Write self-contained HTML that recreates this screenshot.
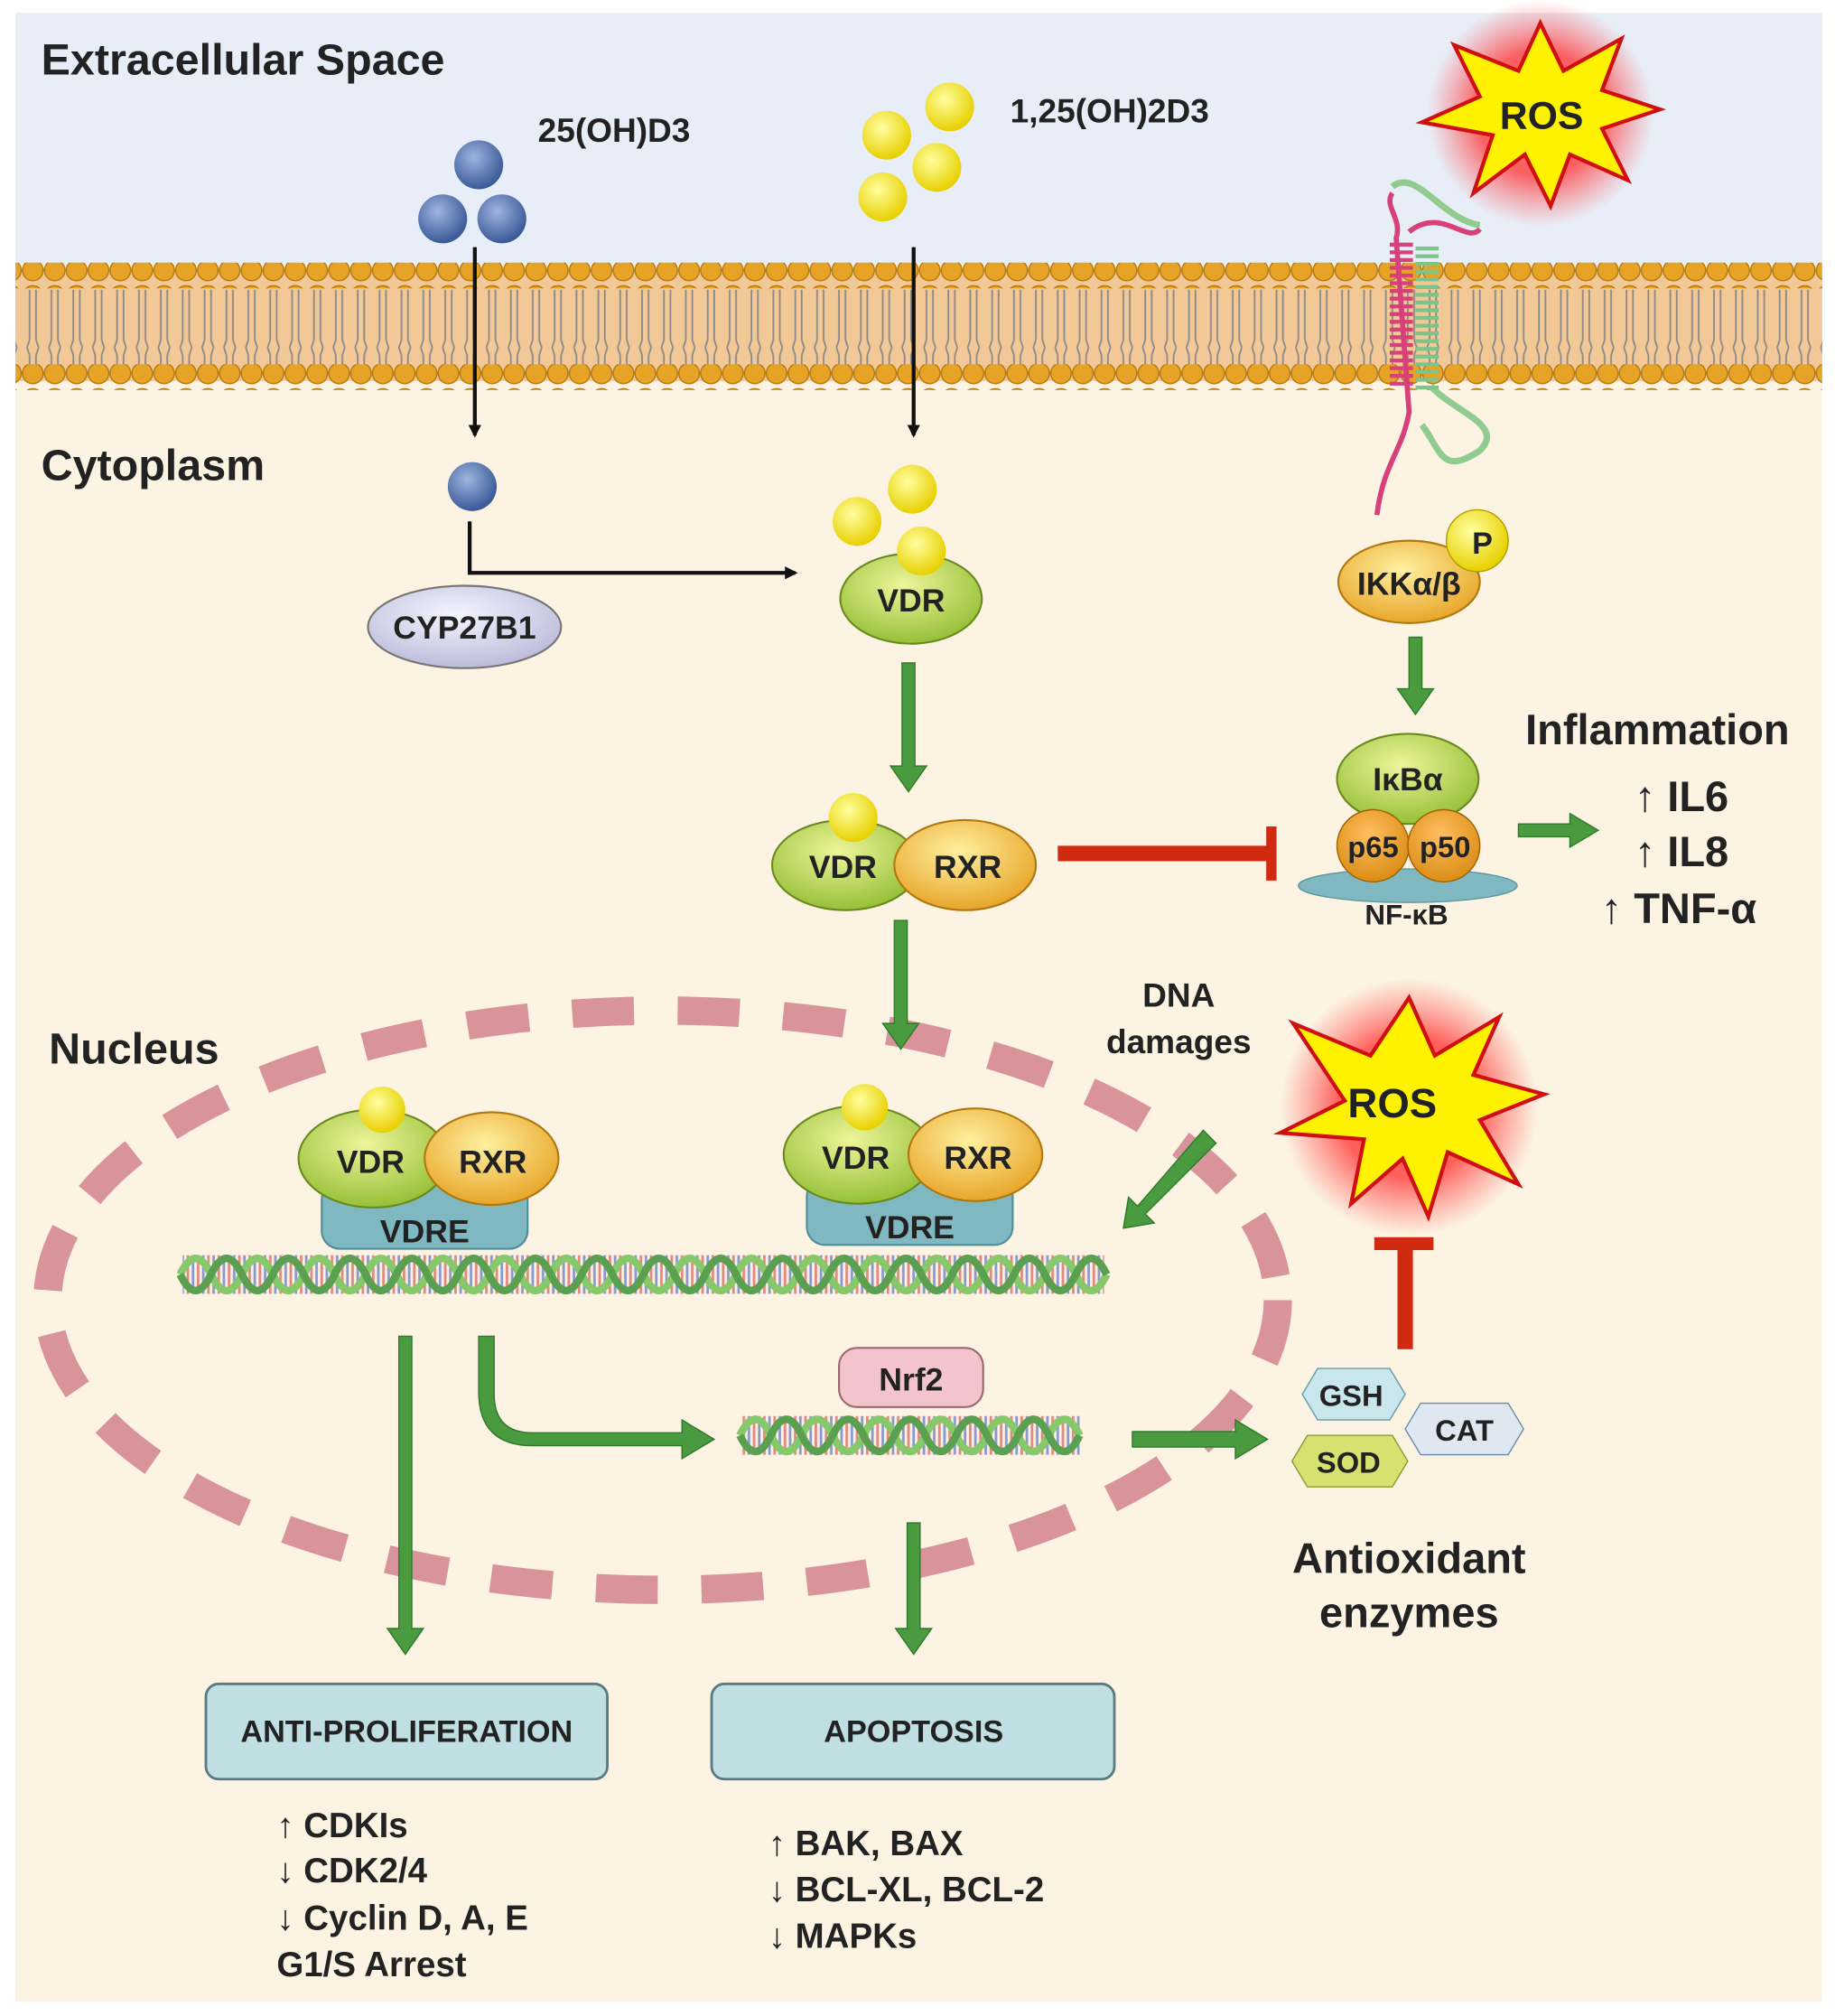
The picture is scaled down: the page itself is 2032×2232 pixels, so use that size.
<!DOCTYPE html>
<html><head><meta charset="utf-8"><style>
html,body{margin:0;padding:0;background:#fff;}
svg{display:block;}
text{font-family:"Liberation Sans",Arial,sans-serif;font-weight:bold;fill:#222;}
</style></head><body>
<svg width="2032" height="2232" viewBox="0 0 1426 1566" preserveAspectRatio="none" xmlns="http://www.w3.org/2000/svg">
<defs>
<radialGradient id="gb" cx="40%" cy="35%" r="65%"><stop offset="0" stop-color="#9fb4e0"/><stop offset="1" stop-color="#3a5a98"/></radialGradient>
<radialGradient id="gy" cx="40%" cy="35%" r="65%"><stop offset="0" stop-color="#ffffa0"/><stop offset="1" stop-color="#e8d000"/></radialGradient>
<radialGradient id="gg" cx="45%" cy="35%" r="70%"><stop offset="0" stop-color="#eef59a"/><stop offset="1" stop-color="#8fbc30"/></radialGradient>
<radialGradient id="go" cx="45%" cy="35%" r="70%"><stop offset="0" stop-color="#fff0a0"/><stop offset="1" stop-color="#e6a020"/></radialGradient>
<radialGradient id="gl" cx="45%" cy="35%" r="70%"><stop offset="0" stop-color="#f4f4ff"/><stop offset="1" stop-color="#b8b8d8"/></radialGradient>
<radialGradient id="gp" cx="45%" cy="35%" r="70%"><stop offset="0" stop-color="#ffbe60"/><stop offset="1" stop-color="#d88a10"/></radialGradient>
<radialGradient id="glow" cx="50%" cy="50%" r="50%"><stop offset="0.55" stop-color="#ff3030" stop-opacity="0.75"/><stop offset="1" stop-color="#ff5050" stop-opacity="0"/></radialGradient>
<pattern id="heads" width="17" height="20" patternUnits="userSpaceOnUse"><circle cx="8.5" cy="10" r="8" fill="#e7a326" stroke="#b47810" stroke-width="1"/></pattern>
<pattern id="tails" width="17" height="60" patternUnits="userSpaceOnUse"><path d="M6 0 V24 M11 0 V24 M6 36 V60 M11 36 V60 M6 24 L4 30 M11 24 L13 30 M6 36 L4 30 M11 36 L13 30" stroke="#8a8a8a" stroke-width="1.3" fill="none"/></pattern>
<pattern id="rungs" width="8" height="40" patternUnits="userSpaceOnUse"><rect x="1" y="0" width="2" height="40" fill="#d03030"/><rect x="5" y="0" width="2" height="40" fill="#3050c0"/></pattern>
<marker id="ab" markerWidth="10" markerHeight="10" refX="8" refY="5" orient="auto" markerUnits="userSpaceOnUse"><path d="M0 0 L10 5 L0 10 Z" fill="#111"/></marker>
</defs>
<rect width="1426" height="1566" fill="#fff"/>
<rect x="12" y="10" width="1404" height="200" fill="#e8eef8"/>
<rect x="12" y="205" width="1404" height="1350" fill="#fcf3e3"/>
<rect x="12" y="212" width="1404" height="84" fill="#f2c896"/>
<rect x="12" y="225" width="1404" height="60" fill="url(#tails)"/>
<rect x="12" y="204" width="1404" height="20" fill="url(#heads)"/>
<rect x="12" y="283" width="1404" height="20" fill="url(#heads)"/>
<text x="32" y="58" font-size="34">Extracellular Space</text>
<text x="418" y="110" font-size="26">25(OH)D3</text>
<text x="785" y="95" font-size="26">1,25(OH)2D3</text>
<text x="32" y="373" font-size="34">Cytoplasm</text>
<text x="38" y="826" font-size="34">Nucleus</text>
<!-- receptor -->
<path d="M1082 150 C1075 160 1090 170 1085 185 L1095 320 C1090 350 1075 360 1070 400" stroke="#d8407a" stroke-width="4" fill="none"/>
<path d="M1082 145 C1100 130 1120 170 1150 175 M1112 300 C1130 320 1170 330 1150 350 C1120 370 1120 350 1105 330" stroke="#90cc90" stroke-width="5" fill="none"/>
<path d="M1095 180 C1120 160 1140 190 1150 178" stroke="#d8407a" stroke-width="4" fill="none"/>
<g stroke="#d8407a" stroke-width="3" fill="none">
<path d="M1080 190 h18 M1080 196 h18 M1080 202 h18 M1080 208 h18 M1080 214 h18 M1080 220 h18 M1080 226 h18 M1080 232 h18 M1080 238 h18 M1080 244 h18 M1080 250 h18 M1080 256 h18 M1080 262 h18 M1080 268 h18 M1080 274 h18 M1080 280 h18 M1080 286 h18 M1080 292 h18 M1080 298 h18"/></g>
<g stroke="#7cc48a" stroke-width="3" fill="none">
<path d="M1100 193 h18 M1100 199 h18 M1100 205 h18 M1100 211 h18 M1100 217 h18 M1100 223 h18 M1100 229 h18 M1100 235 h18 M1100 241 h18 M1100 247 h18 M1100 253 h18 M1100 259 h18 M1100 265 h18 M1100 271 h18 M1100 277 h18 M1100 283 h18 M1100 289 h18 M1100 295 h18 M1100 301 h18"/></g>
<!-- ROS stars -->
<circle cx="1197" cy="88" r="88" fill="url(#glow)"/>
<polygon points="1197,18 1215,55 1260,30 1245,70 1290,85 1245,100 1265,140 1220,120 1205,160 1185,120 1145,150 1160,105 1105,95 1150,75 1130,35 1180,55" fill="#fff200" stroke="#d01010" stroke-width="3"/>
<text x="1198" y="100" font-size="30" text-anchor="middle">ROS</text>
<circle cx="1095" cy="860" r="100" fill="url(#glow)"/>
<polygon points="1095,775 1115,820 1165,790 1145,835 1200,850 1150,870 1180,920 1125,895 1110,945 1090,900 1050,935 1060,885 995,880 1045,855 1005,795 1065,820" fill="#fff200" stroke="#d01010" stroke-width="3"/>
<text x="1082" y="868" font-size="32" text-anchor="middle">ROS</text>
<!-- nucleus (behind arrows) -->
<ellipse cx="515" cy="1010" rx="478" ry="225" fill="none" stroke="#d8939b" stroke-width="22" stroke-dasharray="48 34"/>
<!-- balls outside -->
<circle cx="372" cy="128" r="19" fill="url(#gb)"/><circle cx="344" cy="170" r="19" fill="url(#gb)"/><circle cx="390" cy="170" r="19" fill="url(#gb)"/>
<circle cx="738" cy="83" r="19" fill="url(#gy)"/><circle cx="689" cy="105" r="19" fill="url(#gy)"/><circle cx="728" cy="130" r="19" fill="url(#gy)"/><circle cx="686" cy="153" r="19" fill="url(#gy)"/>
<line x1="369" y1="192" x2="369" y2="338" stroke="#111" stroke-width="3" marker-end="url(#ab)"/>
<line x1="710" y1="192" x2="710" y2="338" stroke="#111" stroke-width="3" marker-end="url(#ab)"/>
<circle cx="367" cy="378" r="19" fill="url(#gb)"/>
<path d="M365 405 V445 H618" stroke="#111" stroke-width="3" fill="none" marker-end="url(#ab)"/>
<ellipse cx="361" cy="487" rx="75" ry="32" fill="url(#gl)" stroke="#777" stroke-width="1.5"/>
<text x="361" y="496" font-size="25" text-anchor="middle">CYP27B1</text>
<circle cx="709" cy="380" r="19" fill="url(#gy)"/><circle cx="666" cy="405" r="19" fill="url(#gy)"/>
<ellipse cx="708" cy="465" rx="55" ry="35" fill="url(#gg)" stroke="#6a8a20" stroke-width="1.5"/>
<circle cx="716" cy="428" r="19" fill="url(#gy)"/>
<text x="708" y="475" font-size="25" text-anchor="middle">VDR</text>
<text x="916" y="782" font-size="26" text-anchor="middle">DNA</text>
<text x="916" y="818" font-size="26" text-anchor="middle">damages</text>
<!-- DNA helices -->
<rect x="142" y="975" width="716" height="30" fill="url(#rungs)" opacity="0.55"/>
<rect x="577" y="1100" width="262" height="30" fill="url(#rungs)" opacity="0.55"/>
<g fill="none" stroke-width="6">
<path d="M140 990 q12 -25 24 0 t24 0 t24 0 t24 0 t24 0 t24 0 t24 0 t24 0 t24 0 t24 0 t24 0 t24 0 t24 0 t24 0 t24 0 t24 0 t24 0 t24 0 t24 0 t24 0 t24 0 t24 0 t24 0 t24 0 t24 0 t24 0 t24 0 t24 0 t24 0 t24 0" stroke="#86c86a"/>
<path d="M140 990 q12 25 24 0 t24 0 t24 0 t24 0 t24 0 t24 0 t24 0 t24 0 t24 0 t24 0 t24 0 t24 0 t24 0 t24 0 t24 0 t24 0 t24 0 t24 0 t24 0 t24 0 t24 0 t24 0 t24 0 t24 0 t24 0 t24 0 t24 0 t24 0 t24 0 t24 0" stroke="#5aa050"/>
<path d="M575 1115 q12 -25 24 0 t24 0 t24 0 t24 0 t24 0 t24 0 t24 0 t24 0 t24 0 t24 0 t24 0" stroke="#86c86a"/>
<path d="M575 1115 q12 25 24 0 t24 0 t24 0 t24 0 t24 0 t24 0 t24 0 t24 0 t24 0 t24 0 t24 0" stroke="#5aa050"/>
</g>
<g fill="#4a9a40" stroke="#2e7a2a" stroke-width="1">
<path d="M701 515 h10 v80 h9 l-14 20 l-14 -20 h9z"/>
<path d="M695 715 h10 v80 h9 l-14 20 l-14 -20 h9z"/>
<path d="M1095 495 h10 v40 h9 l-14 20 l-14 -20 h9z"/>
<path d="M1180 640 h40 v-8 l22 13 l-22 13 v-8 h-40z"/>
<path d="M310 1038 h10 v227 h9 l-14 20 l-14 -20 h9z"/>
<path d="M705 1183 h10 v82 h9 l-14 20 l-14 -20 h9z"/>
<path d="M880 1112 h80 v-9 l25 15 l-25 15 v-9 h-80z"/>
<path d="M372 1038 h12 v45 q0 30 30 30 h116 v-10 l25 15 l-25 15 v-10 h-116 q-42 0 -42 -42z"/>
<path d="M935 878 l10 10 l-55 55 l7 7 l-24 4 l4 -24 l7 7z"/>
</g>
<!-- VDR-RXR cytoplasm -->
<ellipse cx="657" cy="672" rx="57" ry="35" fill="url(#gg)" stroke="#6a8a20" stroke-width="1.5"/>
<ellipse cx="750" cy="672" rx="55" ry="35" fill="url(#go)" stroke="#b07810" stroke-width="1.5"/>
<circle cx="663" cy="635" r="19" fill="url(#gy)"/>
<text x="655" y="682" font-size="25" text-anchor="middle">VDR</text>
<text x="752" y="682" font-size="25" text-anchor="middle">RXR</text>
<line x1="822" y1="663" x2="986" y2="663" stroke="#d02a10" stroke-width="12"/>
<line x1="988" y1="642" x2="988" y2="684" stroke="#d02a10" stroke-width="8"/>
<!-- IKK / NF-kB -->
<ellipse cx="1095" cy="452" rx="55" ry="32" fill="url(#go)" stroke="#b07810" stroke-width="1.5"/>
<circle cx="1148" cy="420" r="24" fill="url(#gy)" stroke="#b0a000"/>
<text x="1152" y="430" font-size="24" font-weight="normal" text-anchor="middle">P</text>
<text x="1095" y="462" font-size="25" text-anchor="middle">IKKα/β</text>
<ellipse cx="1094" cy="688" rx="85" ry="13" fill="#7fb8c0" stroke="#5a9aa0"/>
<ellipse cx="1094" cy="605" rx="55" ry="35" fill="url(#gg)" stroke="#6a8a20" stroke-width="1.5"/>
<text x="1094" y="614" font-size="25" text-anchor="middle">IκBα</text>
<circle cx="1067" cy="657" r="28" fill="url(#gp)" stroke="#a06000"/>
<circle cx="1122" cy="657" r="28" fill="url(#gp)" stroke="#a06000"/>
<text x="1067" y="666" font-size="23" font-weight="normal" text-anchor="middle">p65</text>
<text x="1123" y="666" font-size="23" font-weight="normal" text-anchor="middle">p50</text>
<text x="1093" y="718" font-size="22" text-anchor="middle">NF-κB</text>
<text x="1288" y="578" font-size="33" text-anchor="middle">Inflammation</text>
<text x="1270" y="630" font-size="33">↑ IL6</text>
<text x="1270" y="673" font-size="33">↑ IL8</text>
<text x="1244" y="717" font-size="33">↑ TNF-α</text>
<!-- nuclear complexes -->
<rect x="250" y="918" width="160" height="52" rx="14" fill="#7fb8c0" stroke="#4f8f98" stroke-width="1.5"/>
<text x="330" y="965" font-size="25" text-anchor="middle">VDRE</text>
<ellipse cx="290" cy="900" rx="58" ry="38" fill="url(#gg)" stroke="#6a8a20" stroke-width="1.5"/>
<ellipse cx="382" cy="900" rx="52" ry="36" fill="url(#go)" stroke="#b07810" stroke-width="1.5"/>
<circle cx="297" cy="862" r="18" fill="url(#gy)"/>
<text x="288" y="911" font-size="25" text-anchor="middle">VDR</text>
<text x="383" y="911" font-size="25" text-anchor="middle">RXR</text>
<rect x="627" y="915" width="160" height="52" rx="14" fill="#7fb8c0" stroke="#4f8f98" stroke-width="1.5"/>
<text x="707" y="962" font-size="25" text-anchor="middle">VDRE</text>
<ellipse cx="667" cy="897" rx="58" ry="38" fill="url(#gg)" stroke="#6a8a20" stroke-width="1.5"/>
<ellipse cx="758" cy="897" rx="52" ry="36" fill="url(#go)" stroke="#b07810" stroke-width="1.5"/>
<circle cx="672" cy="860" r="18" fill="url(#gy)"/>
<text x="665" y="908" font-size="25" text-anchor="middle">VDR</text>
<text x="760" y="908" font-size="25" text-anchor="middle">RXR</text>
<rect x="652" y="1047" width="112" height="46" rx="14" fill="#f4c4cc" stroke="#9a6a70" stroke-width="1.5"/>
<text x="708" y="1080" font-size="25" font-weight="normal" text-anchor="middle">Nrf2</text>
<line x1="1092" y1="1048" x2="1092" y2="968" stroke="#d02a10" stroke-width="12"/>
<line x1="1068" y1="966" x2="1114" y2="966" stroke="#d02a10" stroke-width="10"/>
<polygon points="1012,1083 1024,1063 1080,1063 1092,1083 1080,1103 1024,1103" fill="#c8e6ec" stroke="#6a9aa8"/>
<text x="1050" y="1092" font-size="23" text-anchor="middle">GSH</text>
<polygon points="1092,1110 1104,1090 1172,1090 1184,1110 1172,1130 1104,1130" fill="#dfe8f0" stroke="#6a8aa8"/>
<text x="1138" y="1119" font-size="23" text-anchor="middle">CAT</text>
<polygon points="1004,1135 1016,1115 1082,1115 1094,1135 1082,1155 1016,1155" fill="#d8e070" stroke="#8a9a30"/>
<text x="1048" y="1144" font-size="23" text-anchor="middle">SOD</text>
<text x="1095" y="1222" font-size="33" text-anchor="middle">Antioxidant</text>
<text x="1095" y="1264" font-size="33" text-anchor="middle">enzymes</text>
<rect x="160" y="1308" width="312" height="74" rx="10" fill="#bfdfe3" stroke="#5a7a80" stroke-width="2"/>
<text x="316" y="1353" font-size="24" text-anchor="middle">ANTI-PROLIFERATION</text>
<rect x="553" y="1308" width="313" height="74" rx="10" fill="#bfdfe3" stroke="#5a7a80" stroke-width="2"/>
<text x="710" y="1353" font-size="24" text-anchor="middle">APOPTOSIS</text>
<g font-size="27">
<text x="215" y="1427">↑ CDKIs</text>
<text x="215" y="1462">↓ CDK2/4</text>
<text x="215" y="1499">↓ Cyclin D, A, E</text>
<text x="215" y="1535">G1/S Arrest</text>
<text x="597" y="1441">↑ BAK, BAX</text>
<text x="597" y="1477">↓ BCL-XL, BCL-2</text>
<text x="597" y="1513">↓ MAPKs</text>
</g>
</svg>
</body></html>
